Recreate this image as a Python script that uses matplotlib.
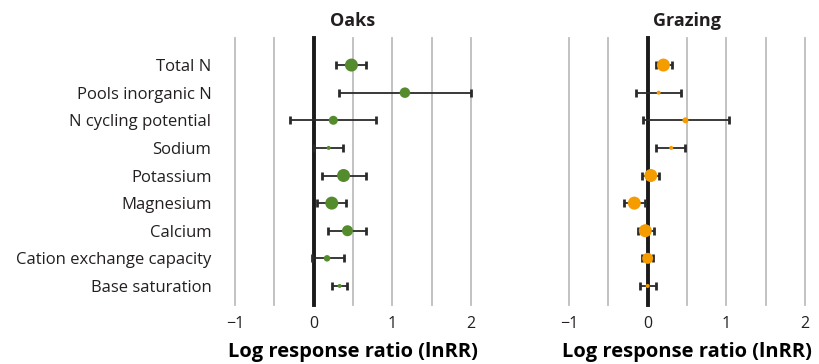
import numpy as np
import matplotlib
matplotlib.use("Agg")
import matplotlib.pyplot as plt

plt.rcParams['font.family'] = ['Open Sans', 'DejaVu Sans']
plt.rcParams['text.color'] = '#231f20'
plt.rcParams['xtick.color'] = '#231f20'
plt.rcParams['ytick.color'] = '#231f20'

categories = ["Total N", "Pools inorganic N", "N cycling potential", "Sodium",
              "Potassium", "Magnesium", "Calcium", "Cation exchange capacity",
              "Base saturation"]

# Oaks: effect, lower CI, upper CI, relative weight (marker diameter)
oaks_mean = [0.48, 1.16, 0.25, 0.19, 0.38, 0.23, 0.43, 0.17, 0.33]
oaks_lo = [0.29, 0.32, -0.30, 0.01, 0.10, 0.04, 0.18, -0.02, 0.23]
oaks_hi = [0.66, 2.00, 0.79, 0.37, 0.66, 0.41, 0.67, 0.385, 0.42]
oaks_w = [13, 10.5, 9, 4, 13, 13, 11, 6.5, 4]

# Grazing
graz_mean = [0.20, 0.14, 0.48, 0.30, 0.04, -0.17, -0.03, 0.00, 0.00]
graz_lo = [0.10, -0.15, -0.06, 0.11, -0.07, -0.30, -0.12, -0.07, -0.10]
graz_hi = [0.31, 0.42, 1.03, 0.47, 0.15, -0.03, 0.08, 0.07, 0.11]
graz_w = [13, 4, 6, 4, 13, 13, 13, 11, 4]

panels = [("Oaks", oaks_mean, oaks_lo, oaks_hi, oaks_w, "#538b2d"),
          ("Grazing", graz_mean, graz_lo, graz_hi, graz_w, "#f59c00")]

W, H = 819, 364
fig = plt.figure(figsize=(W / 100, H / 100), dpi=100)

lefts = [235, 569]
width = 236
top, bottom = 38, 305

y = np.arange(len(categories))

for i, (title, m, lo, hi, w, col) in enumerate(panels):
    ax = fig.add_axes([lefts[i] / W, 1 - bottom / H, width / W, (bottom - top) / H])
    ax.set_xlim(-1, 2)
    ax.set_ylim(len(categories) - 1 + 0.69, -0.98)
    for g in np.arange(-1, 2.01, 0.5):
        if g == 0:
            continue
        ax.axvline(g, color="#bdbdbd", lw=1.3, zorder=1, clip_on=False)
    ax.axvline(0, color="#1a1a1a", lw=2.8, zorder=2, clip_on=False)

    m = np.array(m)
    err = [m - np.array(lo), np.array(hi) - m]
    ax.errorbar(m, y, xerr=err, fmt="none", ecolor="#2a2a2a", elinewidth=1.3,
                capsize=3, capthick=2, zorder=3, clip_on=False)
    ax.scatter(m, y, s=(np.array(w) * 0.72) ** 2, color=col, zorder=4,
               linewidths=0, clip_on=False)

    for s in ax.spines.values():
        s.set_visible(False)
    ax.set_xticks([-1, 0, 1, 2])
    ax.set_xticklabels(["\u22121", "0", "1", "2"], fontsize=11.5)
    ax.tick_params(axis="x", length=0, pad=8)
    ax.set_xlabel("Log response ratio (lnRR)", fontsize=14.5, fontweight="bold",
                  labelpad=7)
    ax.set_title(title, fontsize=13, fontweight="bold", pad=9)
    if i == 0:
        ax.set_yticks(y)
        ax.set_yticklabels(categories, fontsize=12)
        ax.tick_params(axis="y", length=0, pad=17)
    else:
        ax.set_yticks([])

fig.savefig("out.png", dpi=100)
